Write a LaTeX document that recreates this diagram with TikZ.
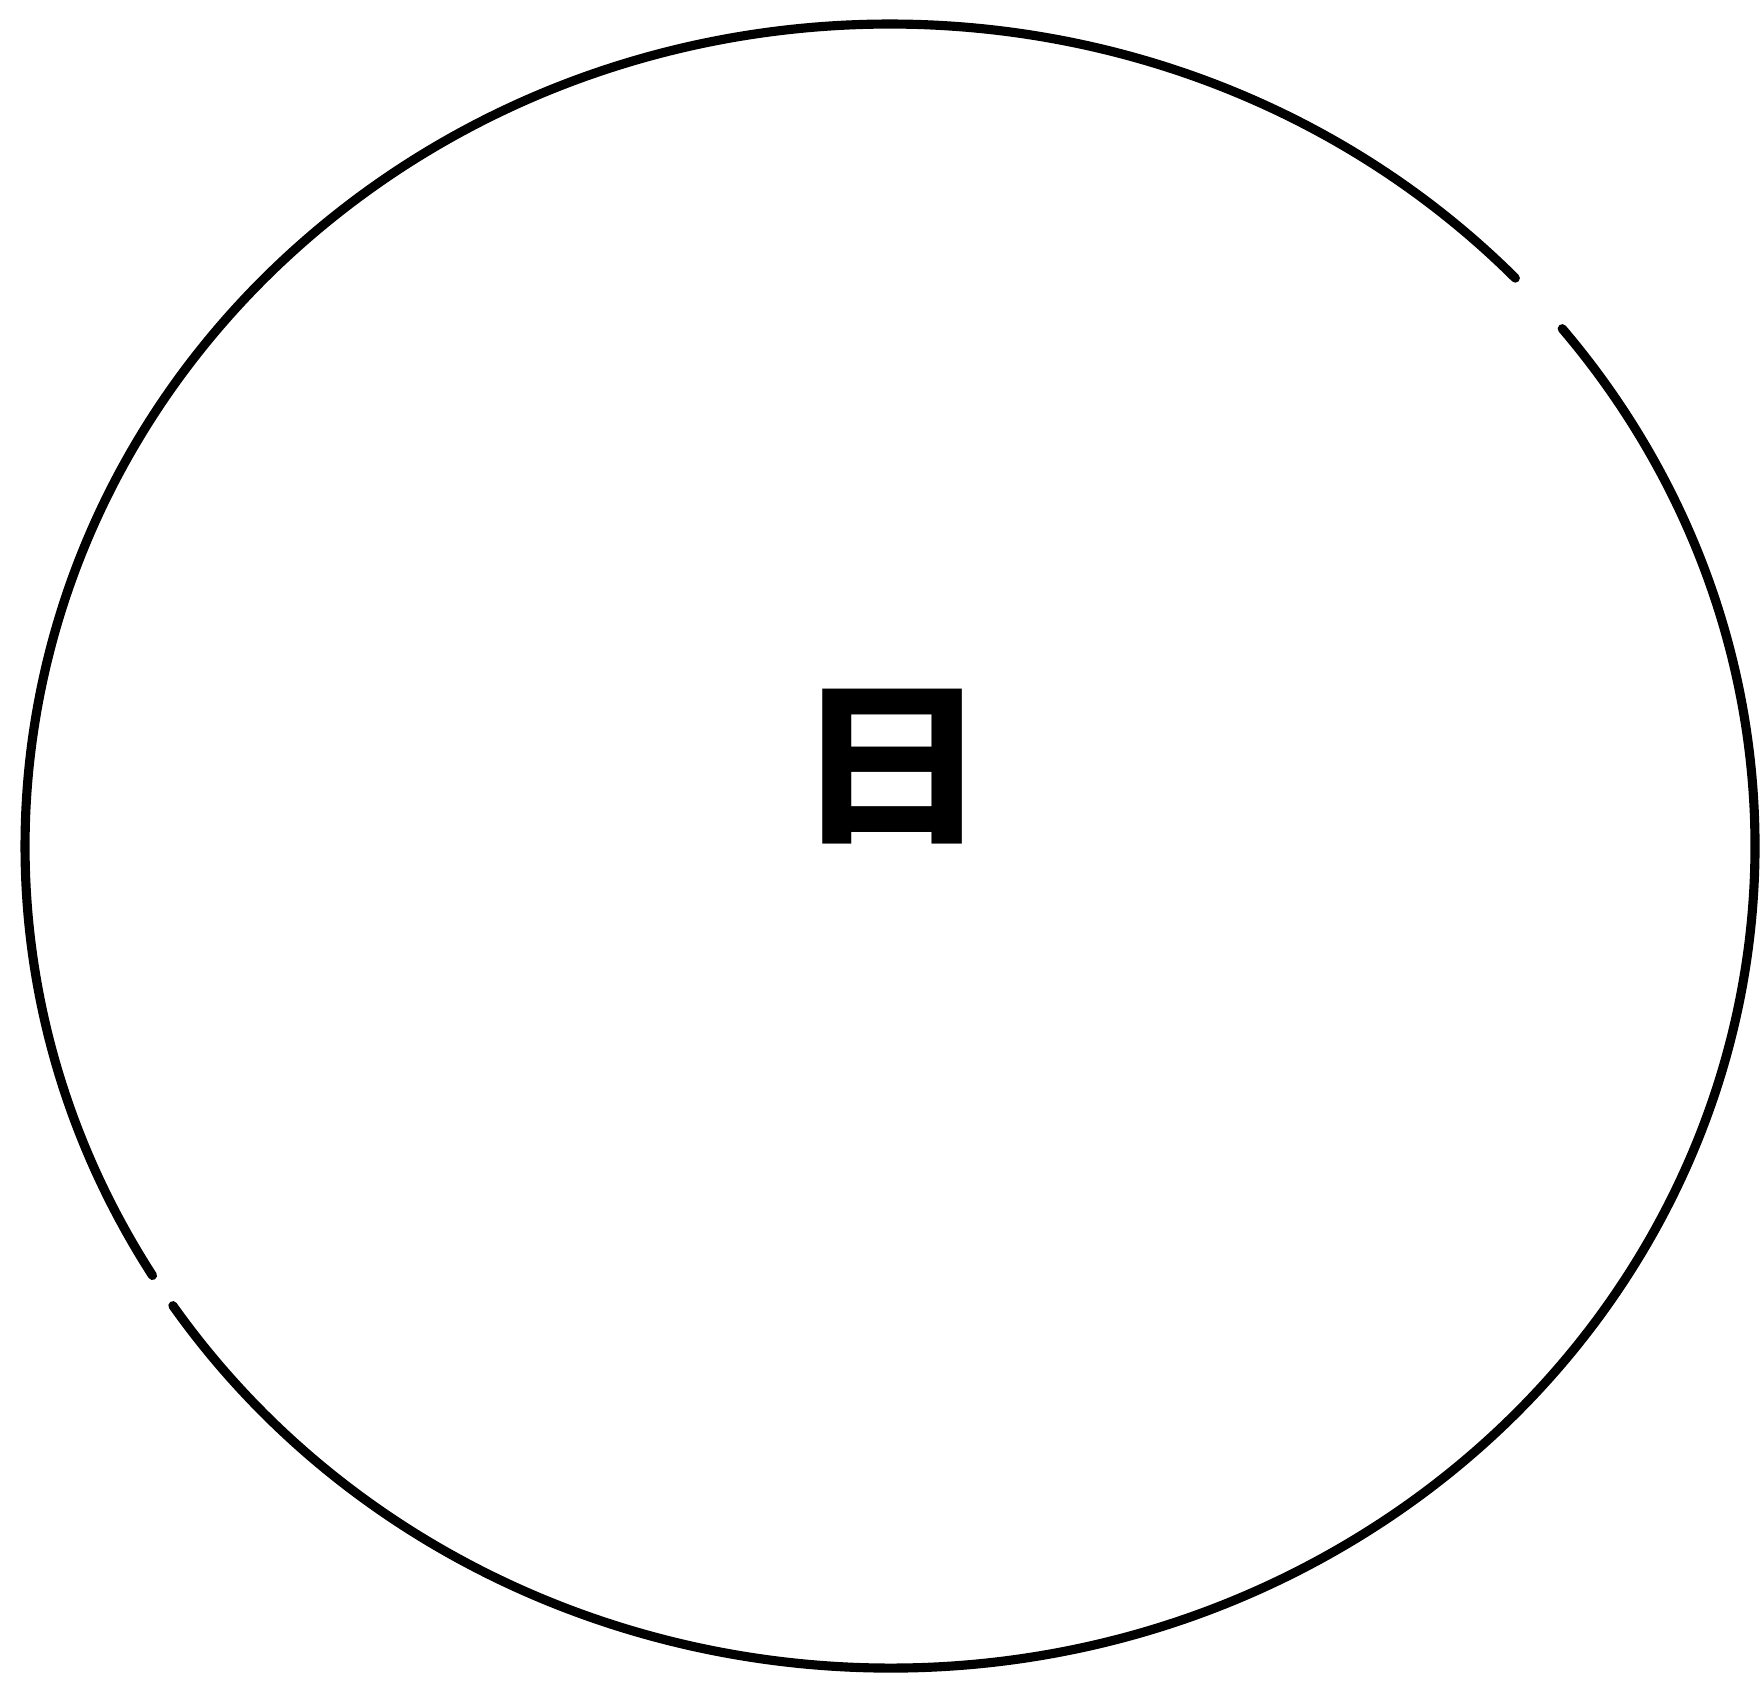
\documentclass[tikz,border=0pt]{standalone}
\usepackage{fontspec}
\newfontfamily\cjk{Noto Sans CJK SC}
\usetikzlibrary{positioning}

\begin{document}
\begin{tikzpicture}[
    rim/.style={line width=2.6pt, line cap=round},
    charNode/.style={font=\cjk\bfseries\fontsize{50}{50}\selectfont, inner sep=0pt, xscale=1.1}]

  \useasboundingbox (0,0) rectangle (17.61,16.85);

  % Circle (two arcs, small gaps)
  \coordinate (sun) at (8.90,8.39);
  \draw[rim] (sun) ++(43.7:8.65 and 8.22) arc[start angle=43.7, end angle=211.5, x radius=8.65, y radius=8.22];
  \draw[rim] (sun) ++(214:8.65 and 8.22) arc[start angle=214, end angle=399, x radius=8.65, y radius=8.22];

  % Label
  \node[charNode] (ri) at (8.92,9.18) {日};

\end{tikzpicture}
\end{document}
